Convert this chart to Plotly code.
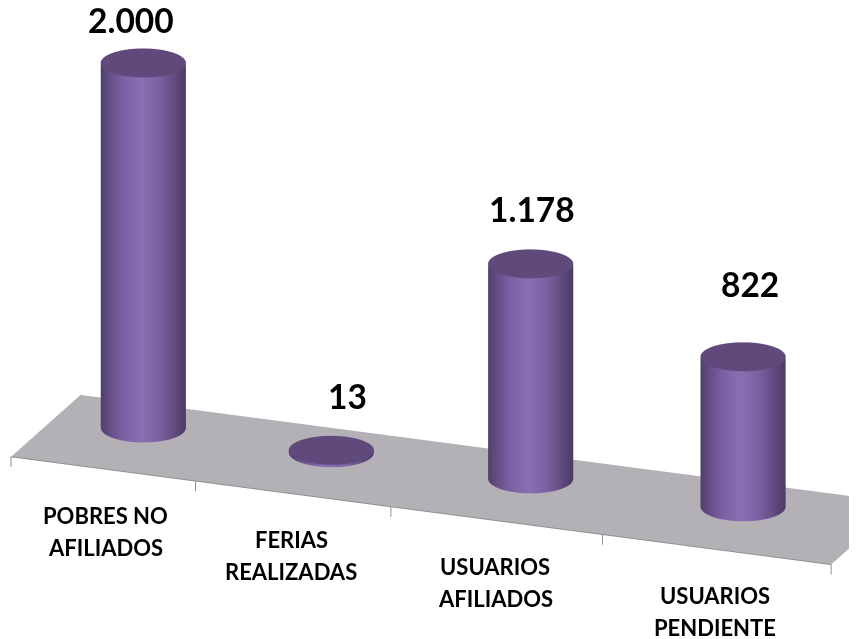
import numpy as np
import plotly.graph_objects as go

categories = [["POBRES NO", "AFILIADOS"], ["FERIAS", "REALIZADAS"], ["USUARIOS", "AFILIADOS"], ["USUARIOS", "PENDIENTE"]]
values = [2000, 13, 1178, 822]
value_labels = ["2.000", "13", "1.178", "822"]

# slight widening of category slots toward the viewer, as in the reference
tick_pos = [-0.5, 0.4, 1.353, 2.385, 3.5]
bar_pos = [-0.075, 0.842, 1.814, 2.85]
BAR_Y = 0.15

value_shift = [(-12, 43), (16, 54), (1, 55), (7, 73)]
label_shift = [(7, -63), (5, -63), (10, -63), (17, -64)]

R_X = 0.194
R_Y = 0.218
X_RANGE = [-0.5, 3.5]
Y_RANGE = [-0.55, 0.5]
Z_RANGE = [-70, 2200]
ASPECT = dict(x=2.75, y=0.6375, z=1.38)
R = 2.0
CENTER = dict(x=-0.059, y=0, z=-0.143)
EYE = dict(x=0.337*R+CENTER["x"], y=-0.877*R+CENTER["y"], z=0.342*R+CENTER["z"])

th = np.linspace(0, 2*np.pi, 181)
colorscale = [[0, "#4f3f68"], [0.08, "#5f4b80"], [0.25, "#7a60a2"], [0.48, "#8b6fb4"], [0.7, "#7a5fa0"],
              [0.88, "#5f4a7c"], [1, "#4c3b62"]]
FLAT = dict(ambient=1, diffuse=0, specular=0, fresnel=0, roughness=1)
sx = ASPECT["x"]/(X_RANGE[1]-X_RANGE[0])
sy = ASPECT["y"]/(Y_RANGE[1]-Y_RANGE[0])
rx, ry = 0.877, 0.337

fig = go.Figure()
fx = np.array([[-0.5, 3.5], [-0.5, 3.5]])
fy = np.array([[-0.5, -0.5], [0.5, 0.5]])
fig.add_trace(go.Surface(x=fx, y=fy, z=np.zeros((2, 2)), surfacecolor=np.zeros((2, 2)),
                         colorscale=[[0, "#b3b1b6"], [1, "#b3b1b6"]], showscale=False, hoverinfo="skip", lighting=FLAT))
ax, ay, az = [-0.5, 3.5, None], [-0.5, -0.5, None], [0, 0, None]
for p in tick_pos:
    ax += [p, p, None]
    ay += [-0.5, -0.5, None]
    az += [0, -55, None]
fig.add_trace(go.Scatter3d(x=ax, y=ay, z=az, mode="lines", line=dict(color="#8f8f8f", width=2), hoverinfo="skip"))
for p, v in zip(bar_pos, values):
    X = p + R_X*np.cos(th)
    Y = BAR_Y + R_Y*np.sin(th)
    Xs = np.vstack([X, X])
    Ys = np.vstack([Y, Y])
    Zs = np.vstack([np.zeros_like(th), np.full_like(th, v)])
    s = R_X*sx*np.cos(th)*rx + R_Y*sy*np.sin(th)*ry
    shade = (s/np.abs(s).max()+1)/2
    sc = np.vstack([shade, shade])
    fig.add_trace(go.Surface(x=Xs, y=Ys, z=Zs, surfacecolor=sc, cmin=0, cmax=1, colorscale=colorscale,
                             showscale=False, hoverinfo="skip", lighting=FLAT))
    rr = np.linspace(0, 1, 2)
    Xc = p + np.outer(rr, R_X*np.cos(th))
    Yc = BAR_Y + np.outer(rr, R_Y*np.sin(th))
    Zc = np.full_like(Xc, v)
    fig.add_trace(go.Surface(x=Xc, y=Yc, z=Zc, surfacecolor=np.zeros_like(Xc),
                             colorscale=[[0, "#604a7b"], [1, "#604a7b"]], showscale=False, hoverinfo="skip", lighting=FLAT))

ann = []
for p, c, v, t, vs, ls in zip(bar_pos, categories, values, value_labels, value_shift, label_shift):
    ann.append(dict(x=p, y=BAR_Y, z=v, text=f"<b>{t}</b>", showarrow=False, xshift=vs[0], yshift=vs[1],
                    font=dict(family="Lato", size=33.5, color="black")))
    for k, line in enumerate(c):
        ann.append(dict(x=p, y=-0.5, z=0, text=f"<b>{line}</b>", showarrow=False, xshift=ls[0], yshift=ls[1]+16-32*k,
                        font=dict(family="Lato", size=22, color="black")))
hidden = dict(visible=False, showgrid=False, zeroline=False, showbackground=False)
fig.update_layout(
    width=857, height=639, margin=dict(l=0, r=0, t=0, b=0), paper_bgcolor="white", showlegend=False,
    scene=dict(
        domain=dict(x=[0, 1], y=[0, 1]),
        xaxis=dict(hidden, range=X_RANGE),
        yaxis=dict(hidden, range=Y_RANGE),
        zaxis=dict(hidden, range=Z_RANGE),
        aspectmode="manual", aspectratio=ASPECT,
        camera=dict(eye=EYE, center=CENTER, up=dict(x=0, y=0, z=1),
                    projection=dict(type="orthographic")),
        annotations=ann,
    ),
)
fig.write_html("out.html")
